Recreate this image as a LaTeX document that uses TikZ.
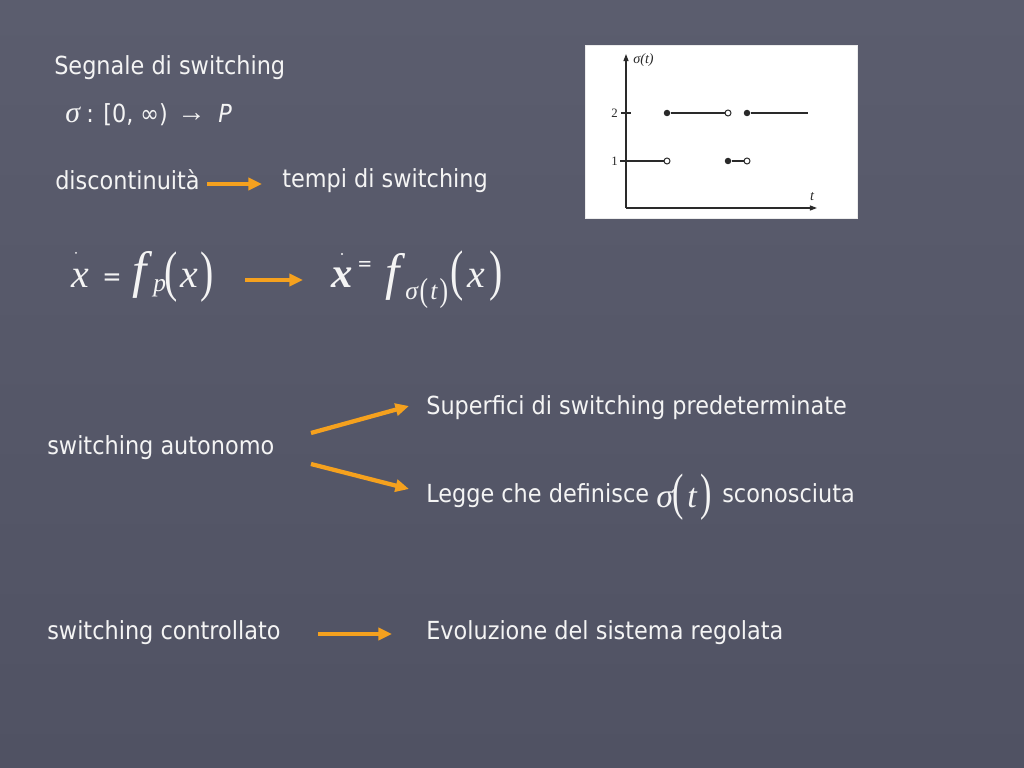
\documentclass[tikz,border=0pt]{standalone}
\usepackage{fontspec}
\setmainfont{DejaVu Sans Condensed}
\newfontfamily\tnr{Liberation Serif}
\usetikzlibrary{arrows.meta}
\newdimen\pxu \pxu=0.703125pt
\definecolor{bgtop}{HTML}{5B5D6E}
\definecolor{bgbot}{HTML}{505263}
\definecolor{txtw}{HTML}{F4F4F4}
\definecolor{arrorange}{HTML}{F5A11E}
\definecolor{plotink}{HTML}{2A2A2A}
\tikzset{
  txt/.style={text=txtw, anchor=base west, inner sep=0pt, font=\fontsize{17.5}{21}\selectfont},
  eq/.style={text=txtw, anchor=base west, inner sep=0pt, font=\tnr\fontsize{28}{30}\selectfont\itshape},
  eqf/.style={text=txtw, anchor=base west, inner sep=0pt, font=\tnr\fontsize{36}{38}\selectfont\itshape},
  eqsub/.style={text=txtw, anchor=base west, inner sep=0pt, font=\tnr\fontsize{18}{20}\selectfont\itshape},
  paren/.style={text=txtw, anchor=center, inner sep=0pt, font=\tnr\fontsize{28}{30}\selectfont},
  sparen/.style={text=txtw, anchor=center, inner sep=0pt, font=\tnr\fontsize{18}{20}\selectfont},
  eqdot/.style={circle, fill=txtw, inner sep=0pt, minimum size=2\pxu},
  oarrow/.style={draw=arrorange, line width=3pt, -{Triangle[length=9.5pt,width=8.5pt]}},
  plotline/.style={draw=plotink, line width=0.9pt},
  fdot/.style={circle, fill=plotink, inner sep=0pt, minimum size=6.5\pxu},
  odot/.style={circle, draw=plotink, fill=white, line width=0.7pt, inner sep=0pt, minimum size=6\pxu},
  plab/.style={text=plotink, inner sep=0pt, font=\tnr\fontsize{9}{10}\selectfont},
}
\begin{document}
\begin{tikzpicture}[x=0.703125pt, y=-0.703125pt]
  % background
  \shade[top color=bgtop, bottom color=bgbot] (0,0) rectangle (1024,768);
  \useasboundingbox (0,0) rectangle (1024,768);

  % top texts
  \node[txt] (seg) at (54,75) {Segnale di switching};
  \node[txt, font=\tnr\fontsize{21}{22}\selectfont\itshape] (sigma) at (65,123) {σ};
  \node[txt] (dom) at (86,123) {: [0, ∞)};
  \node[txt, font=\tnr\fontsize{20}{22}\selectfont] (to) at (177,122) {→};
  \node[txt] (pp) at (218,123) {\itshape P};
  \node[txt] (disc) at (55,190) {discontinuità};
  \node[txt] (tempi) at (282,188) {tempi di switching};
  \coordinate (a1s) at (207,184);
  \coordinate (a1e) at (262,184);
  \draw[oarrow] (a1s) -- (a1e);

  % plot image
  \node[draw=white!85!gray, line width=1pt, fill=white, minimum width=272\pxu, minimum height=173\pxu, inner sep=0pt, anchor=north west] (img) at (585,45) {};
  \coordinate (orig) at (626,208);
  \coordinate (ytop) at (626,54);
  \coordinate (xend) at (817,208);
  \draw[plotline, -{Triangle[length=5pt,width=3.5pt]}] (orig) -- (ytop);
  \draw[plotline, -{Triangle[length=5pt,width=3.5pt]}] (orig) -- (xend);
  \node[plab, anchor=west, font=\tnr\fontsize{10}{11}\selectfont\itshape] (sigt) at (633,60) {σ(t)};
  \node[plab, anchor=east] (two) at (618,113) {2};
  \node[plab, anchor=east] (one) at (618,161) {1};
  \node[plab, font=\tnr\fontsize{10}{11}\selectfont\itshape] (tl) at (812,197) {t};
  \coordinate (tk2a) at (621,113);
  \coordinate (tk2b) at (631,113);
  \draw[plotline] (tk2a) -- (tk2b);
  \coordinate (l1s) at (620,161);
  \node[odot] (o1) at (667,161) {};
  \node[fdot] (f2a) at (667,113) {};
  \node[odot] (o2a) at (728,113) {};
  \node[fdot] (f2b) at (747,113) {};
  \coordinate (l2e) at (808,113);
  \node[fdot] (f1b) at (728,161) {};
  \node[odot] (o1b) at (747,161) {};
  \draw[plotline] (l1s) -- (o1);
  \draw[plotline] (f2a) -- (o2a);
  \draw[plotline] (f2b) -- (l2e);
  \draw[plotline] (f1b) -- (o1b);

  % equation 1
  \node[eq] (x1) at (71,288) {x};
  \node[eqdot] (d1) at (76,253) {};
  \node[txt, font=\fontsize{18}{20}\selectfont] (eq1) at (102,286) {=};
  \node[eqf] (f1) at (132,288) {f};
  \node[eqsub] (p1) at (153,292) {p};
  \node[paren] (lp1) at (171,277) {\scalebox{1}[1.4]{(}};
  \node[eq] (x1b) at (180,288) {x};
  \node[paren] (rp1) at (207,277) {\scalebox{1}[1.4]{)}};
  \coordinate (a2s) at (245,280);
  \coordinate (a2e) at (303,280);
  \draw[oarrow] (a2s) -- (a2e);

  % equation 2
  \node[eq, font=\tnr\fontsize{30}{32}\selectfont\bfseries\itshape] (x2) at (331,288) {x};
  \node[eqdot, minimum size=2.4\pxu] (d2) at (342,254) {};
  \node[txt, font=\fontsize{14}{15}\selectfont] (eq2) at (357,271) {=};
  \node[eqf] (f2) at (385,289) {f};
  \node[eqsub] (s2) at (405,300) {σ};
  \node[sparen] (lps) at (424,293) {\scalebox{1}[1.3]{(}};
  \node[eqsub] (ts) at (430,300) {t};
  \node[sparen] (rps) at (444,293) {\scalebox{1}[1.3]{)}};
  \node[paren] (lp2) at (457,276) {\scalebox{1}[1.4]{(}};
  \node[eq] (x2b) at (467,288) {x};
  \node[paren] (rp2) at (496,276) {\scalebox{1}[1.4]{)}};

  % switching autonomo
  \node[txt] (auto) at (47,454) {switching autonomo};
  \node[txt] (sup) at (426,414) {Superfici di switching predeterminate};
  \node[txt] (legge) at (426,502) {Legge che definisce};
  \node[eq, font=\tnr\fontsize{24}{26}\selectfont\itshape] (sg) at (656,507) {σ};
  \node[paren, font=\tnr\fontsize{24}{26}\selectfont] (lp3) at (678,497) {\scalebox{1}[1.5]{(}};
  \node[eq, font=\tnr\fontsize{24}{26}\selectfont\itshape] (tt) at (687,507) {t};
  \node[paren, font=\tnr\fontsize{24}{26}\selectfont] (rp3) at (706,497) {\scalebox{1}[1.5]{)}};
  \node[txt] (scon) at (722,502) {sconosciuta};
  \coordinate (a3s) at (311,433);
  \coordinate (a3e) at (409,406);
  \coordinate (a4s) at (311,464);
  \coordinate (a4e) at (409,489);
  \draw[oarrow] (a3s) -- (a3e);
  \draw[oarrow] (a4s) -- (a4e);

  % switching controllato
  \node[txt] (contr) at (47,639) {switching controllato};
  \node[txt] (evol) at (426,639) {Evoluzione del sistema regolata};
  \coordinate (a5s) at (318,634);
  \coordinate (a5e) at (392,634);
  \draw[oarrow] (a5s) -- (a5e);
\end{tikzpicture}
\end{document}
